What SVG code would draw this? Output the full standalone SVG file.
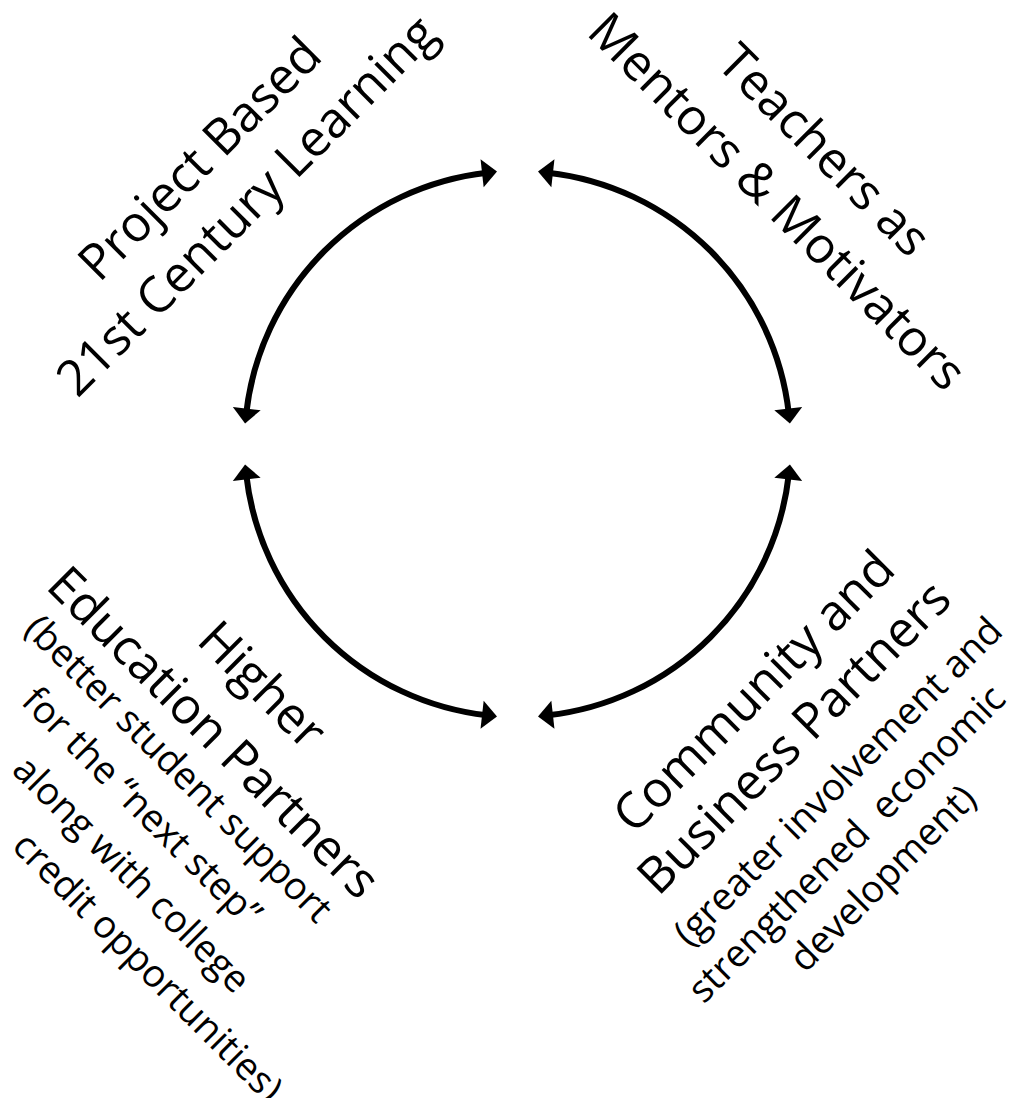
<svg xmlns="http://www.w3.org/2000/svg" width="1011" height="1098" viewBox="0 0 1011 1098">
  <style>
    .t { font-family: "Open Sans", "Noto Sans", sans-serif; fill: #000; }
    .big { font-size: 50px; }
    .small { font-size: 38px; }
    .arc { fill: none; stroke: #000; stroke-width: 6; marker-start: url(#ah); marker-end: url(#ah); }
  </style>
  <defs>
    <marker id="ah" markerUnits="userSpaceOnUse" markerWidth="16" markerHeight="30" refX="5" refY="14" orient="auto-start-reverse" overflow="visible">
      <path d="M0,0 L15,14 L0,28 Z" fill="#000"/>
    </marker>
  </defs>
  <rect width="1011" height="1098" fill="#fff"/>
  <g id="connectors">
    <path class="arc" d="M246.2,413.57 A273,273 0 0 1 487.07,172.7"/>
    <path class="arc" d="M547.93,172.7 A273,273 0 0 1 788.8,413.57"/>
    <path class="arc" d="M788.8,474.43 A273,273 0 0 1 547.93,715.3"/>
    <path class="arc" d="M487.07,715.3 A273,273 0 0 1 246.2,474.43"/>
  </g>
  <g id="node-project" transform="rotate(-45)">
    <text class="t big" x="29" y="270.6" text-anchor="middle">Project Based</text>
    <text class="t big" x="29" y="337" text-anchor="middle">21st Century Learning</text>
  </g>
  <g id="node-teachers" transform="rotate(45)">
    <text class="t big" x="689" y="-459.6" text-anchor="middle">Teachers as</text>
    <text class="t big" x="692" y="-390" text-anchor="middle">Mentors &amp; Motivators</text>
  </g>
  <g id="node-higher-ed" transform="rotate(45)">
    <text class="t big" x="670" y="316" text-anchor="middle">Higher</text>
    <text class="t big" x="669" y="384" text-anchor="middle">Education Partners</text>
    <text class="t small" x="462" y="430">(better student support</text>
    <text class="t small" x="511" y="483">for the “next step”</text>
    <text class="t small" x="553" y="538">along with college</text>
    <text class="t small" x="607" y="592">credit opportunities)</text>
  </g>
  <g id="node-community" transform="rotate(-45)">
    <text class="t big" x="44" y="1039" text-anchor="middle">Community and</text>
    <text class="t big" x="40" y="1100" text-anchor="middle">Business Partners</text>
    <text class="t small" x="40" y="1158" text-anchor="middle">(greater involvement and</text>
    <text class="t small" x="2" y="1208" text-anchor="middle" xml:space="preserve">strengthened  economic</text>
    <text class="t small" x="3" y="1258" text-anchor="middle">development)</text>
  </g>
</svg>
